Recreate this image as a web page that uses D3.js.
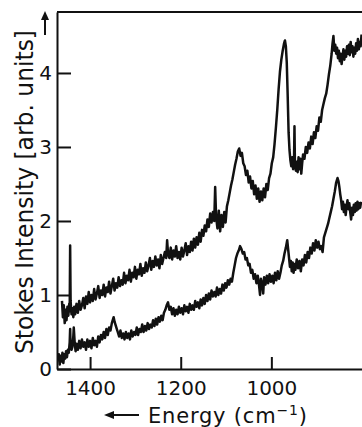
<!DOCTYPE html>
<html>
<head>
<meta charset="utf-8">
<script src="https://cdn.jsdelivr.net/npm/d3@7"></script>
<style>
  html, body { margin: 0; padding: 0; background: #fff; }
  svg { display: block; }
</style>
</head>
<body>
<div id="chart"></div>
<script>
// axis ticks
const xTicks = [1400, 1200, 1000];
const yTicks = [0, 1, 2, 3, 4];

// upper spectrum: [energy cm^-1, intensity]
const upper = [
  [1462, 0.92], [1460, 0.70], [1458, 0.86], [1456, 0.62], [1454, 0.80], [1452, 0.66], [1450, 0.84],
  [1448, 0.72], [1446, 0.88], [1445, 0.78], [1444, 1.67], [1443, 0.92], [1441, 0.74], [1439, 0.82],
  [1437, 0.70], [1435, 0.84], [1433, 0.74], [1430, 0.88], [1427, 0.76], [1424, 0.92], [1421, 0.80],
  [1418, 0.86], [1415, 0.96], [1412, 0.82], [1409, 0.98], [1406, 0.88], [1403, 1.04], [1400, 0.90],
  [1397, 1.00], [1394, 0.92], [1391, 1.08], [1388, 0.94], [1385, 1.02], [1382, 1.12], [1379, 0.96],
  [1376, 1.06], [1373, 1.00], [1370, 1.14], [1367, 0.98], [1364, 1.10], [1361, 1.04], [1358, 1.18],
  [1355, 1.02], [1352, 1.12], [1349, 1.22], [1346, 1.06], [1343, 1.16], [1340, 1.10], [1337, 1.24],
  [1334, 1.12], [1331, 1.20], [1328, 1.14], [1325, 1.30], [1322, 1.16], [1319, 1.26], [1316, 1.20],
  [1313, 1.34], [1310, 1.18], [1307, 1.30], [1304, 1.24], [1301, 1.38], [1298, 1.22], [1295, 1.34],
  [1292, 1.28], [1289, 1.42], [1286, 1.26], [1283, 1.36], [1280, 1.30], [1277, 1.44], [1274, 1.32],
  [1271, 1.40], [1268, 1.50], [1265, 1.34], [1262, 1.46], [1259, 1.38], [1256, 1.52], [1253, 1.40],
  [1250, 1.48], [1247, 1.36], [1244, 1.54], [1241, 1.42], [1238, 1.50], [1235, 1.58], [1232, 1.50],
  [1230, 1.74], [1228, 1.56], [1225, 1.50], [1222, 1.64], [1219, 1.48], [1216, 1.60], [1213, 1.52],
  [1210, 1.66], [1207, 1.50], [1204, 1.58], [1201, 1.48], [1198, 1.64], [1195, 1.52], [1192, 1.60],
  [1189, 1.70], [1186, 1.54], [1183, 1.66], [1180, 1.58], [1177, 1.72], [1174, 1.60], [1171, 1.76],
  [1168, 1.64], [1165, 1.78], [1162, 1.68], [1159, 1.84], [1156, 1.72], [1153, 1.88], [1150, 1.80],
  [1147, 1.94], [1144, 1.86], [1141, 2.02], [1138, 1.92], [1135, 2.10], [1132, 1.98], [1129, 2.12],
  [1126, 2.00], [1124, 2.46], [1122, 2.06], [1119, 1.90], [1116, 2.14], [1113, 1.86], [1110, 2.08],
  [1107, 1.92], [1104, 2.12], [1101, 1.98], [1098, 2.20], [1095, 2.28], [1092, 2.38], [1089, 2.48],
  [1086, 2.56], [1083, 2.66], [1080, 2.76], [1077, 2.84], [1074, 2.94], [1071, 2.98], [1068, 2.88],
  [1065, 2.92], [1062, 2.78], [1059, 2.74], [1056, 2.62], [1053, 2.68], [1050, 2.52], [1047, 2.60],
  [1044, 2.44], [1041, 2.54], [1038, 2.36], [1035, 2.48], [1032, 2.30], [1029, 2.44], [1026, 2.26],
  [1023, 2.40], [1020, 2.28], [1017, 2.44], [1014, 2.32], [1011, 2.50], [1008, 2.42], [1005, 2.58],
  [1002, 2.64], [999, 2.78], [996, 2.86], [993, 3.04], [990, 3.26], [987, 3.50], [984, 3.78],
  [981, 4.02], [978, 4.18], [975, 4.30], [972, 4.40], [970, 4.44], [968, 4.36], [966, 4.14],
  [964, 3.70], [962, 3.20], [960, 2.96], [958, 2.82], [956, 2.74], [954, 2.86], [952, 2.70],
  [950, 2.82], [949, 3.28], [948, 2.76], [946, 2.68], [944, 2.80], [942, 2.66], [940, 2.86],
  [938, 2.70], [936, 2.84], [934, 2.64], [932, 2.78], [930, 2.90], [927, 2.84], [924, 3.00],
  [921, 2.92], [918, 3.06], [915, 2.98], [912, 3.14], [909, 3.04], [906, 3.20], [903, 3.12],
  [900, 3.28], [897, 3.22], [894, 3.40], [891, 3.34], [888, 3.50], [885, 3.58], [882, 3.66],
  [879, 3.72], [876, 3.84], [873, 3.98], [870, 4.10], [867, 4.26], [865, 4.40], [863, 4.50],
  [861, 4.30], [859, 4.38], [857, 4.26], [855, 4.34], [853, 4.20], [851, 4.30], [849, 4.16],
  [847, 4.26], [845, 4.12], [843, 4.22], [841, 4.32], [839, 4.18], [837, 4.30], [835, 4.22],
  [833, 4.36], [831, 4.26], [829, 4.38], [827, 4.24], [825, 4.42], [823, 4.28], [821, 4.36],
  [819, 4.22], [817, 4.34], [815, 4.26], [813, 4.40], [811, 4.30], [809, 4.46], [807, 4.32],
  [805, 4.42], [803, 4.36], [801, 4.52],
];

// lower spectrum: [energy cm^-1, intensity]
const lower = [
  [1471, 0.10], [1469, 0.20], [1467, 0.06], [1465, 0.18], [1463, 0.10], [1461, 0.22], [1459, 0.08],
  [1457, 0.20], [1455, 0.14], [1453, 0.24], [1451, 0.16], [1449, 0.26], [1447, 0.22], [1445, 0.36],
  [1444, 0.54], [1443, 0.32], [1441, 0.26], [1439, 0.30], [1437, 0.44], [1436, 0.56], [1434, 0.36],
  [1432, 0.24], [1430, 0.34], [1427, 0.26], [1424, 0.38], [1421, 0.28], [1418, 0.40], [1415, 0.30],
  [1412, 0.36], [1409, 0.26], [1406, 0.40], [1403, 0.30], [1400, 0.38], [1397, 0.28], [1394, 0.42],
  [1391, 0.32], [1388, 0.38], [1385, 0.30], [1382, 0.44], [1379, 0.36], [1376, 0.46], [1373, 0.40],
  [1370, 0.50], [1367, 0.42], [1364, 0.54], [1361, 0.46], [1358, 0.56], [1355, 0.52], [1352, 0.62],
  [1350, 0.66], [1348, 0.70], [1346, 0.64], [1344, 0.60], [1342, 0.56], [1339, 0.50], [1336, 0.44],
  [1333, 0.52], [1330, 0.42], [1327, 0.48], [1324, 0.40], [1321, 0.50], [1318, 0.42], [1315, 0.48],
  [1312, 0.40], [1309, 0.52], [1306, 0.44], [1303, 0.50], [1300, 0.46], [1297, 0.56], [1294, 0.46],
  [1291, 0.54], [1288, 0.50], [1285, 0.60], [1282, 0.50], [1279, 0.58], [1276, 0.52], [1273, 0.62],
  [1270, 0.54], [1267, 0.60], [1264, 0.56], [1261, 0.66], [1258, 0.58], [1255, 0.68], [1252, 0.60],
  [1249, 0.70], [1246, 0.64], [1243, 0.72], [1240, 0.66], [1237, 0.76], [1234, 0.80], [1231, 0.86],
  [1228, 0.90], [1225, 0.80], [1222, 0.84], [1219, 0.74], [1216, 0.82], [1213, 0.72], [1210, 0.80],
  [1207, 0.74], [1204, 0.84], [1201, 0.76], [1198, 0.82], [1195, 0.74], [1192, 0.86], [1189, 0.78],
  [1186, 0.84], [1183, 0.76], [1180, 0.88], [1177, 0.80], [1174, 0.86], [1171, 0.80], [1168, 0.92],
  [1165, 0.84], [1162, 0.90], [1159, 0.82], [1156, 0.94], [1153, 0.86], [1150, 0.96], [1147, 0.88],
  [1144, 1.00], [1141, 0.92], [1138, 1.02], [1135, 0.94], [1132, 1.06], [1129, 0.98], [1126, 1.04],
  [1123, 0.98], [1120, 1.10], [1117, 1.00], [1114, 1.08], [1111, 1.02], [1108, 1.14], [1105, 1.06],
  [1102, 1.16], [1099, 1.10], [1096, 1.20], [1093, 1.14], [1090, 1.22], [1087, 1.18], [1084, 1.30],
  [1081, 1.40], [1078, 1.50], [1075, 1.56], [1072, 1.60], [1069, 1.66], [1066, 1.62], [1063, 1.56],
  [1060, 1.58], [1057, 1.48], [1054, 1.50], [1051, 1.40], [1048, 1.42], [1045, 1.30], [1042, 1.34],
  [1039, 1.22], [1036, 1.28], [1033, 1.16], [1030, 1.26], [1027, 1.12], [1025, 1.00], [1023, 1.22],
  [1020, 1.14], [1018, 1.02], [1016, 1.24], [1013, 1.14], [1010, 1.26], [1007, 1.16], [1004, 1.28],
  [1001, 1.18], [998, 1.26], [995, 1.16], [992, 1.30], [989, 1.20], [986, 1.32], [983, 1.22],
  [980, 1.30], [977, 1.40], [974, 1.46], [971, 1.56], [968, 1.64], [965, 1.74], [963, 1.62],
  [961, 1.50], [959, 1.38], [957, 1.46], [955, 1.32], [953, 1.44], [951, 1.30], [949, 1.42],
  [947, 1.34], [944, 1.48], [941, 1.36], [938, 1.46], [935, 1.32], [932, 1.48], [929, 1.40],
  [926, 1.54], [923, 1.44], [920, 1.58], [917, 1.50], [914, 1.64], [911, 1.56], [908, 1.70],
  [905, 1.60], [902, 1.74], [899, 1.64], [896, 1.72], [893, 1.62], [890, 1.66], [887, 1.58],
  [884, 1.78], [881, 1.84], [878, 1.90], [875, 1.96], [872, 2.04], [869, 2.12], [866, 2.20],
  [863, 2.30], [860, 2.40], [857, 2.52], [854, 2.58], [852, 2.54], [850, 2.46], [848, 2.36],
  [846, 2.28], [844, 2.16], [842, 2.26], [840, 2.12], [838, 2.22], [836, 2.08], [834, 2.20],
  [832, 2.28], [830, 2.16], [828, 2.24], [826, 2.12], [824, 2.02], [822, 2.18], [820, 2.08],
  [818, 2.22], [816, 2.12], [814, 2.24], [812, 2.14], [810, 2.26], [808, 2.16], [806, 2.24],
  [804, 2.18], [802, 2.26],
];

const width = 362;
const height = 427;
const plot = { left: 57, right: 362, top: 12, bottom: 369 };
const font = 'DejaVu Sans, sans-serif';
const ink = '#111';

const svg = d3.select('#chart')
  .append('svg')
  .attr('width', width)
  .attr('height', height);

const xScale = d3.scaleLinear([1473, 800], [plot.left, plot.right]);
const yScale = d3.scaleLinear([0, 4.824], [plot.bottom, plot.top]);

svg.append('defs')
  .append('clipPath')
  .attr('id', 'plot-clip')
  .append('rect')
  .attr('x', plot.left)
  .attr('y', plot.top)
  .attr('width', plot.right - plot.left)
  .attr('height', plot.bottom - plot.top);

const line = d3.line()
  .x(([x]) => xScale(x))
  .y(([, y]) => yScale(y))
  .curve(d3.curveLinear);

svg.append('g')
  .attr('clip-path', 'url(#plot-clip)')
  .selectAll('path')
  .data([upper, lower])
  .join('path')
  .attr('fill', 'none')
  .attr('stroke', ink)
  .attr('stroke-width', 2.5)
  .attr('stroke-linejoin', 'round')
  .attr('d', line);

// axes with inward ticks
const xAxis = svg.append('g')
  .attr('transform', `translate(0,${plot.bottom})`)
  .call(d3.axisBottom(xScale).tickValues(xTicks).tickFormat(d3.format('d'))
    .tickSize(-12).tickSizeOuter(0).tickPadding(12));

const yAxis = svg.append('g')
  .attr('transform', `translate(${plot.left},0)`)
  .call(d3.axisLeft(yScale).tickValues(yTicks).tickFormat(d3.format('d'))
    .tickSize(-14).tickSizeOuter(0).tickPadding(5));

[xAxis, yAxis].forEach((g) => {
  g.select('.domain').attr('stroke', ink).attr('stroke-width', 2);
  g.selectAll('.tick line').attr('stroke', ink).attr('stroke-width', 2);
  g.selectAll('.tick text')
    .attr('fill', ink)
    .attr('font-family', font)
    .attr('font-size', 20);
});

// top frame line
svg.append('line')
  .attr('x1', plot.left)
  .attr('x2', plot.right)
  .attr('y1', plot.top)
  .attr('y2', plot.top)
  .attr('stroke', ink)
  .attr('stroke-width', 2);

// y label with arrow
svg.append('text')
  .attr('transform', 'translate(33,192) rotate(-90)')
  .attr('text-anchor', 'middle')
  .attr('font-family', font)
  .attr('font-size', 24)
  .attr('fill', ink)
  .attr('textLength', 324)
  .attr('lengthAdjust', 'spacingAndGlyphs')
  .text('Stokes Intensity [arb. units]');

svg.append('line')
  .attr('x1', 45).attr('x2', 45)
  .attr('y1', 35).attr('y2', 18)
  .attr('stroke', ink)
  .attr('stroke-width', 2);
svg.append('path')
  .attr('d', 'M45,11 L41,20 L49,20 Z')
  .attr('fill', ink);

// x label with arrow
svg.append('line')
  .attr('x1', 112).attr('x2', 139)
  .attr('y1', 415).attr('y2', 415)
  .attr('stroke', ink)
  .attr('stroke-width', 2);
svg.append('path')
  .attr('d', 'M104,415 L114,411 L114,419 Z')
  .attr('fill', ink);

const xLabel = svg.append('text')
  .attr('x', 148)
  .attr('y', 423)
  .attr('font-family', font)
  .attr('font-size', 21)
  .attr('fill', ink)
  .attr('letter-spacing', 0.8);
xLabel.append('tspan').text('Energy (cm');
xLabel.append('tspan').attr('font-size', 14).attr('dy', -8).text('−1');
xLabel.append('tspan').attr('dy', 8).text(')');
</script>
</body>
</html>
